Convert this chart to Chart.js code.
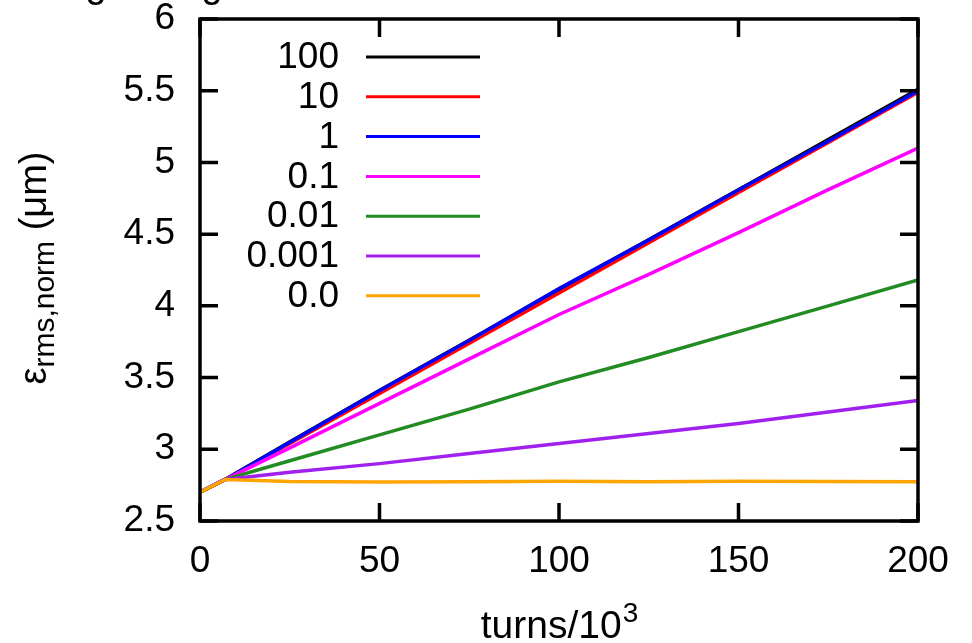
<!DOCTYPE html>
<html>
<head>
<meta charset="utf-8">
<script src="https://cdn.jsdelivr.net/npm/chart.js@4/dist/chart.umd.min.js"></script>
<style>
	html, body { margin: 0; padding: 0; background: #fff; }
	#wrap { width: 972px; height: 643px; }
</style>
</head>
<body>
<div id="wrap"><canvas id="chart" width="972" height="643"></canvas></div>
<script>
// turns / 10^3
const TURNS = [0, 7, 25, 50, 75, 100, 125, 150, 175, 200];
// emittance (um) per noise level
const E_100 = [2.70, 2.79, 3.05, 3.41, 3.76, 4.11, 4.46, 4.81, 5.16, 5.51];
const E_10 = [2.70, 2.79, 3.04, 3.39, 3.74, 4.09, 4.44, 4.79, 5.14, 5.49];
const E_1 = [2.70, 2.79, 3.05, 3.41, 3.76, 4.12, 4.46, 4.81, 5.15, 5.50];
const E_01 = [2.70, 2.79, 3.01, 3.32, 3.63, 3.94, 4.22, 4.51, 4.81, 5.10];
const E_001 = [2.70, 2.79, 2.92, 3.10, 3.28, 3.47, 3.64, 3.82, 4.00, 4.18];
const E_0001 = [2.70, 2.79, 2.84, 2.90, 2.97, 3.04, 3.11, 3.18, 3.26, 3.34];
const E_0 = [2.70, 2.79, 2.775, 2.772, 2.773, 2.778, 2.774, 2.778, 2.776, 2.773];

const LABELS = ['100', '10', '1', '0.1', '0.01', '0.001', '0.0'];
const SERIES = [E_100, E_10, E_1, E_01, E_001, E_0001, E_0];
const COLORS = ['#000000', '#ff0000', '#0000ff', '#ff00ff', '#228b22', '#a020f0', '#ffa500'];

const Y_TICKS = ['2.5', '3', '3.5', '4', '4.5', '5', '5.5', '6'];
const X_TICKS = ['0', '50', '100', '150', '200'];

const FONT = '"Liberation Sans", Arial, sans-serif';

const datasets = SERIES.map((vals, i) => ({
	label: LABELS[i],
	data: TURNS.map((t, j) => ({ x: t, y: vals[j] })),
	borderColor: COLORS[i],
	backgroundColor: COLORS[i],
	borderWidth: 3.5,
	pointRadius: 0,
	tension: 0,
	fill: false,
	order: SERIES.length - i   // later series on top, like gnuplot
}));

const gnuplotFrame = {
	id: 'gnuplotFrame',
	afterDatasetsDraw(chart) {
		const { ctx, chartArea: a, scales } = chart;
		const tl = 18;
		ctx.save();
		ctx.strokeStyle = '#000';
		ctx.lineWidth = 3.5;
		ctx.lineCap = 'butt';
		ctx.strokeRect(a.left, a.top, a.right - a.left, a.bottom - a.top);
		ctx.beginPath();
		scales.y.ticks.forEach(t => {
			const y = scales.y.getPixelForValue(t.value);
			ctx.moveTo(a.left, y); ctx.lineTo(a.left + tl, y);
			ctx.moveTo(a.right, y); ctx.lineTo(a.right - tl, y);
		});
		scales.x.ticks.forEach(t => {
			const x = scales.x.getPixelForValue(t.value);
			ctx.moveTo(x, a.bottom); ctx.lineTo(x, a.bottom - tl);
			ctx.moveTo(x, a.top); ctx.lineTo(x, a.top + tl);
		});
		ctx.stroke();

		// key, gnuplot style: right aligned text then a line sample
		ctx.font = '37px ' + FONT;
		ctx.fillStyle = '#000';
		ctx.textAlign = 'right';
		ctx.textBaseline = 'middle';
		LABELS.forEach((lab, i) => {
			const y = a.top + 38 + i * 39.8;
			ctx.fillText(lab, a.left + 139, y + 1);
			ctx.beginPath();
			ctx.strokeStyle = COLORS[i];
			ctx.lineWidth = 3;
			ctx.moveTo(a.left + 166, y);
			ctx.lineTo(a.left + 280, y);
			ctx.stroke();
		});
		ctx.restore();
	},
	afterDraw(chart) {
		const { ctx, chartArea: a } = chart;
		ctx.save();
		ctx.fillStyle = '#000';
		ctx.textBaseline = 'alphabetic';

		// y title: eps_{rms,norm} (um), rotated
		const main = '38px ' + FONT, sub = '30px ' + FONT;
		ctx.translate(46, (a.top + a.bottom) / 2 - 2);
		ctx.rotate(-Math.PI / 2);
		ctx.font = main; const w1 = ctx.measureText('ε').width;
		const w3 = ctx.measureText(' (μm)').width;
		ctx.font = sub; const w2 = ctx.measureText('rms,norm').width;
		let x = -(w1 + w2 + w3) / 2;
		ctx.textAlign = 'left';
		ctx.font = main; ctx.fillText('ε', x, 0); x += w1;
		ctx.font = sub; ctx.fillText('rms,norm', x, 8); x += w2;
		ctx.font = main; ctx.fillText(' (μm)', x, 0);
		ctx.setTransform(1, 0, 0, 1, 0, 0);

		// x title: turns/10^3
		const supF = '28px ' + FONT;
		ctx.font = '39px ' + FONT; const t1 = ctx.measureText('turns/10').width;
		ctx.font = supF; const t2 = ctx.measureText('3').width;
		let cx = (a.left + a.right) / 2 - (t1 + t2) / 2;
		ctx.font = '39px ' + FONT; ctx.fillText('turns/10', cx, 638);
		ctx.font = supF; ctx.fillText('3', cx + t1 + 1, 622);

		// descenders of a title cut off above the figure
		ctx.font = main;
		ctx.textAlign = 'center';
		ctx.fillText('g', 96, -3);
		ctx.fillText('g', 212, -3);
		ctx.restore();
	}
};

new Chart(document.getElementById('chart').getContext('2d'), {
	type: 'line',
	data: { datasets },
	options: {
		responsive: false,
		animation: false,
		layout: { padding: { top: 19, right: 54, left: 0, bottom: 0 } },
		plugins: { legend: { display: false }, tooltip: { enabled: false } },
		scales: {
			x: {
				type: 'linear',
				min: 0, max: 200,
				grid: { display: false, drawTicks: false },
				border: { display: false },
				ticks: {
					stepSize: 50,
					padding: 22,
					color: '#000',
					maxRotation: 0,
					font: { size: 37, family: FONT, lineHeight: 1 },
					callback: (v) => X_TICKS[X_TICKS.indexOf(String(v))] ?? ''
				},
				afterFit: s => { s.height = 122; s.paddingLeft = 0; s.paddingRight = 0; }
			},
			y: {
				type: 'linear',
				min: 2.5, max: 6,
				grid: { display: false, drawTicks: false },
				border: { display: false },
				ticks: {
					stepSize: 0.5,
					padding: 25,
					color: '#000',
					font: { size: 37, family: FONT, lineHeight: 1 },
					callback: (v) => Y_TICKS[Math.round((v - 2.5) / 0.5)] ?? ''
				},
				afterFit: s => { s.width = 200; s.paddingTop = 0; s.paddingBottom = 0; }
			}
		}
	},
	plugins: [gnuplotFrame]
});
</script>
</body>
</html>
